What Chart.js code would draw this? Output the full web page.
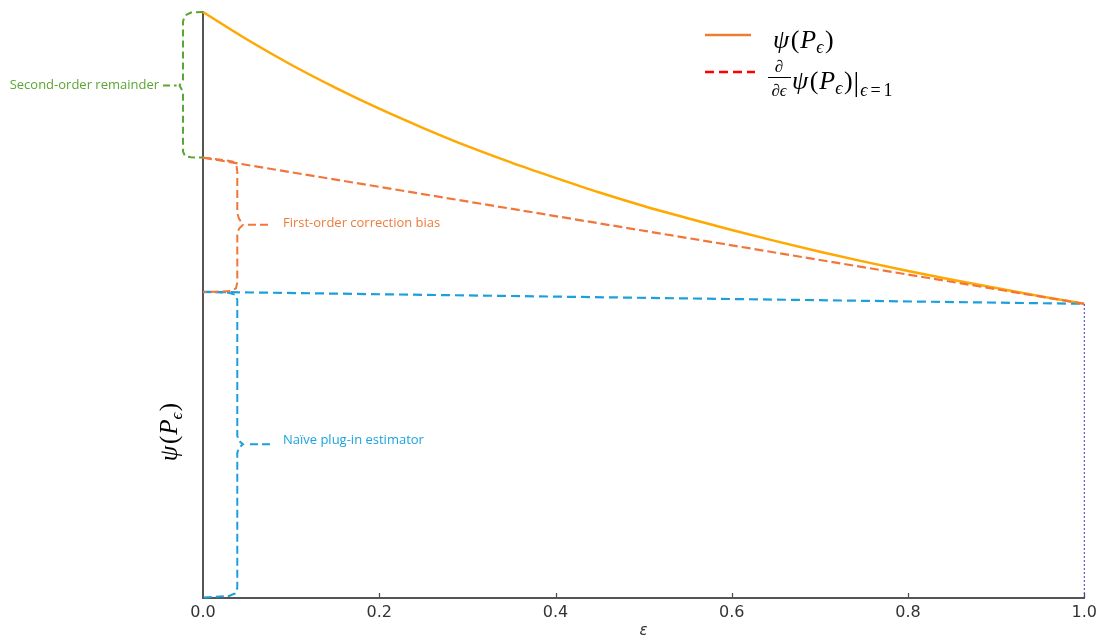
<!DOCTYPE html>
<html><head><meta charset="utf-8">
<script src="https://cdn.jsdelivr.net/npm/chart.js@4.4.1/dist/chart.umd.min.js"></script>
<style>html,body{margin:0;padding:0;background:#fff;}#wrap{width:1102px;height:640px;position:relative;}</style>
</head><body><div id="wrap"><canvas id="c" width="1102" height="640"></canvas></div>
<script>
// ---- data ----
const epsilon = [0,0.05,0.1,0.15,0.2,0.25,0.3,0.35,0.4,0.45,0.5,0.55,0.6,0.65,0.7,0.75,0.8,0.85,0.9,0.95,1.0];
const psiValues = [1.000,0.953,0.910,0.871,0.835,0.802,0.771,0.743,0.717,0.692,0.669,0.648,0.628,0.609,0.591,0.574,0.558,0.543,0.529,0.515,0.502];
const tangentEps = [0,1];
const tangentValues = [0.7515,0.502];
const naiveEps = [0,1];
const naiveValues = [0.5225,0.502];
const markerEps = [1,1];
const markerValues = [0,0.502];
const xTickValues = [0,0.2,0.4,0.6,0.8,1.0];
const xTickLabels = ['0.0','0.2','0.4','0.6','0.8','1.0'];

// brace annotations (epsilon, value)
const greenBraceEps = [0,-0.0136,-0.0204,-0.0227,-0.0227,-0.0266,-0.0227,-0.0227,-0.0204,-0.0136,0];
const greenBraceVal = [1.0,0.9991,0.994,0.984,0.885,0.8745,0.864,0.762,0.754,0.752,0.7515];
const greenLinkEps = [-0.0454,-0.0300];
const greenLinkVal = [0.8745,0.8745];
const orangeBraceEps = [0,0.0261,0.034,0.038,0.0389,0.0389,0.0408,0.0454,0.0408,0.0389,0.0389,0.0374,0.0317,0];
const orangeBraceVal = [0.7515,0.747,0.7447,0.738,0.7276,0.6576,0.6473,0.637,0.630,0.620,0.538,0.5286,0.5238,0.5218];
const orangeLinkEps = [0.051,0.0782];
const orangeLinkVal = [0.637,0.637];
const blueBraceEps = [0,0.0295,0.0363,0.0389,0.0389,0.0408,0.0454,0.0408,0.0389,0.0389,0.0363,0.0295,0];
const blueBraceVal = [0.5221,0.521,0.5175,0.509,0.2767,0.2681,0.2622,0.2562,0.2476,0.0171,0.0077,0.0034,0.0009];
const blueLinkEps = [0.0533,0.0794];
const blueLinkVal = [0.2622,0.2622];

const annotationLabels = ['Second-order remainder','First-order correction bias','Naïve plug-in estimator'];
const annotationEps = [-0.0499,0.0907,0.0907];
const annotationVal = [0.8745,0.6388,0.2699];
const annotationAlign = ['right','left','left'];

const C_CURVE = '#FFA800', C_TAN = '#F2763A', C_NAIVE = '#1CA0DC', C_GREEN = '#5BA532', C_MARK = '#3838D4';
const C_ORANGE_TXT = '#EE7B3A', C_BLUE_TXT = '#1AA3DF';
const annotationColors = [C_GREEN, C_ORANGE_TXT, C_BLUE_TXT];

const pts = (xs, ys) => xs.map((x, i) => ({x, y: ys[i]}));
const lineDs = (xs, ys, color, width, dash, extra) => Object.assign({
  data: pts(xs, ys), borderColor: color, borderWidth: width, borderDash: dash || [],
  pointRadius: 0, fill: false, tension: 0, clip: false, borderCapStyle: 'butt'
}, extra || {});

const MF = "'Liberation Serif', 'DejaVu Serif', serif";
function drawRuns(ctx, x, y, runs) {
  for (const r of runs) {
    ctx.font = r.f;
    ctx.fillText(r.t, x + (r.pre || 0), y + (r.dy || 0));
    x += (r.pre || 0) + ctx.measureText(r.t).width + (r.post || 0);
  }
  return x;
}
function runsWidth(ctx, runs) {
  let w = 0;
  for (const r of runs) { ctx.font = r.f; w += (r.pre||0) + ctx.measureText(r.t).width + (r.post||0); }
  return w;
}
const psiRuns = (s) => [
  {t: 'ψ', f: `italic ${s}px ${MF}`, post: 1.5},
  {t: '(', f: `${s}px ${MF}`, post: 1},
  {t: 'P', f: `italic ${s}px ${MF}`},
  {t: 'ϵ', f: `italic ${Math.round(s*0.68)}px ${MF}`, dy: Math.round(s*0.2), post: 1.5},
  {t: ')', f: `${s}px ${MF}`}
];

const overlay = {
  id: 'overlay',
  afterDraw(chart) {
    const ctx = chart.ctx, xs = chart.scales.x, ys = chart.scales.y;
    ctx.save();
    // inward tick marks
    ctx.strokeStyle = '#555'; ctx.lineWidth = 1.3;
    const yb = ys.getPixelForValue(0);
    xTickValues.forEach(v => {
      if (v === 0) return;
      const px = Math.round(xs.getPixelForValue(v)) + 0.5;
      ctx.beginPath(); ctx.moveTo(px, yb); ctx.lineTo(px, yb - 5); ctx.stroke();
    });
    // annotation labels
    ctx.textBaseline = 'middle';
    annotationLabels.forEach((t, i) => {
      ctx.font = "13px 'Open Sans', sans-serif";
      ctx.fillStyle = annotationColors[i];
      ctx.textAlign = annotationAlign[i];
      ctx.fillText(t, xs.getPixelForValue(annotationEps[i]), ys.getPixelForValue(annotationVal[i]));
    });
    // legend
    ctx.textAlign = 'left'; ctx.textBaseline = 'alphabetic'; ctx.fillStyle = '#000';
    ctx.lineWidth = 2.5;
    ctx.strokeStyle = '#ED7D31'; ctx.setLineDash([]);
    ctx.beginPath(); ctx.moveTo(705, 35); ctx.lineTo(751, 35); ctx.stroke();
    ctx.strokeStyle = '#FF0000'; ctx.setLineDash([9, 5]);
    ctx.beginPath(); ctx.moveTo(705, 72); ctx.lineTo(755, 72); ctx.stroke();
    ctx.setLineDash([]);
    drawRuns(ctx, 773, 48, psiRuns(26));
    // fraction d/de
    ctx.font = `italic 17px ${MF}`;
    ctx.textAlign = 'center';
    ctx.fillText('∂', 779, 72);
    ctx.fillText('∂ϵ', 779, 96);
    ctx.textAlign = 'left';
    ctx.lineWidth = 1; ctx.strokeStyle = '#000';
    ctx.beginPath(); ctx.moveTo(768, 77.5); ctx.lineTo(791, 77.5); ctx.stroke();
    let xe = drawRuns(ctx, 792, 89, psiRuns(26));
    xe = drawRuns(ctx, xe + 1, 91, [{t: '|', f: `28px ${MF}`}]);
    drawRuns(ctx, xe + 1, 96, [
      {t: 'ϵ', f: `italic 18px ${MF}`, post: 3},
      {t: '=', f: `18px ${MF}`, post: 3},
      {t: '1', f: `18px ${MF}`}
    ]);
    // y axis title (rotated)
    const yr = psiRuns(25);
    const w = runsWidth(ctx, yr);
    ctx.translate(177, 432); ctx.rotate(-Math.PI/2);
    drawRuns(ctx, -w/2, 0, yr);
    ctx.restore();
  }
};

new Chart(document.getElementById('c'), {
  type: 'line',
  data: {
    datasets: [
      lineDs(markerEps, markerValues, C_MARK, 1, [2, 2]),
      lineDs(greenBraceEps, greenBraceVal, C_GREEN, 2, [7, 4]),
      lineDs(greenLinkEps, greenLinkVal, C_GREEN, 2, [7, 4]),
      lineDs(orangeBraceEps, orangeBraceVal, C_TAN, 2, [8, 4]),
      lineDs(orangeLinkEps, orangeLinkVal, C_TAN, 2, [8, 4]),
      lineDs(blueBraceEps, blueBraceVal, C_NAIVE, 2, [8, 4]),
      lineDs(blueLinkEps, blueLinkVal, C_NAIVE, 2, [8, 4]),
      lineDs(tangentEps, tangentValues, C_TAN, 2.2, [9, 4]),
      lineDs(naiveEps, naiveValues, C_NAIVE, 2.2, [9, 5]),
      lineDs(epsilon, psiValues, C_CURVE, 2.5, [], {cubicInterpolationMode: 'monotone'})
    ]
  },
  options: {
    responsive: false, animation: false, devicePixelRatio: 1,
    layout: {padding: {left: 203, right: 17, top: 12, bottom: 0}},
    plugins: {legend: {display: false}, tooltip: {enabled: false}},
    scales: {
      x: {
        type: 'linear', min: 0, max: 1,
        afterFit(s) { s.height = 42; },
        afterBuildTicks(s) { s.ticks = xTickValues.map(v => ({value: v})); },
        ticks: {callback: (v, i) => xTickLabels[i], color: '#333', padding: 5, maxRotation: 0, autoSkip: false,
                font: {family: "'DejaVu Sans', sans-serif", size: 16}},
        grid: {display: true, drawOnChartArea: false, drawTicks: false},
        border: {display: true, color: '#555', width: 2},
        title: {display: true, text: 'ε', color: '#333', padding: 0,
                font: {family: "'DejaVu Sans', sans-serif", size: 15, style: 'italic'}}
      },
      y: {
        type: 'linear', min: 0, max: 1,
        afterFit(s) { s.width = 0; },
        ticks: {display: false},
        grid: {display: true, drawOnChartArea: false, drawTicks: false},
        border: {display: true, color: '#555', width: 2}
      }
    }
  },
  plugins: [overlay]
});
</script></body></html>
